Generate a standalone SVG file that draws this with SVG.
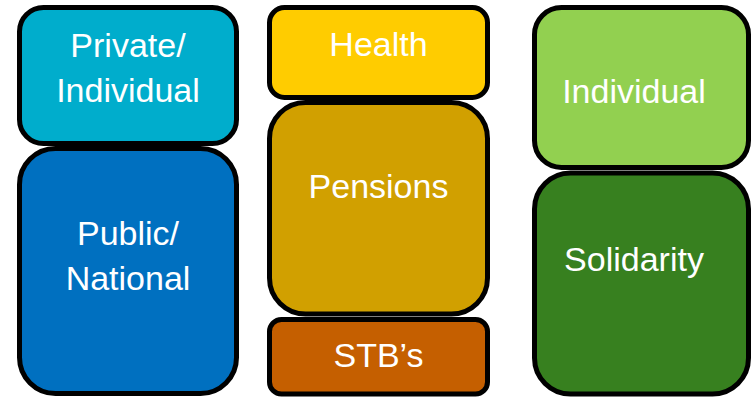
<svg xmlns="http://www.w3.org/2000/svg" width="752" height="398" viewBox="0 0 752 398">
<style>
.box{stroke:#000;stroke-width:5}
.t{font-family:"Liberation Sans",Arial,sans-serif;font-size:34px;fill:#fff;text-anchor:middle}
</style>
<rect width="752" height="398" fill="#fff"/>
<g id="private">
<rect class="box" x="19.5" y="7.5" width="217" height="136" rx="24" fill="#00ADCC"/>
<text class="t" x="128" y="57">Private/</text>
<text class="t" x="128" y="102">Individual</text>
</g>
<g id="public">
<rect class="box" x="19.5" y="148.5" width="217" height="245" rx="36" fill="#0070C0"/>
<text class="t" x="128" y="245">Public/</text>
<text class="t" x="128" y="290">National</text>
</g>
<g id="health">
<rect class="box" x="269.5" y="7.5" width="218" height="90" rx="15" fill="#FFCC00"/>
<text class="t" x="378.5" y="56">Health</text>
</g>
<g id="pensions">
<rect class="box" x="269.5" y="102.5" width="218" height="211.5" rx="36" fill="#D1A000"/>
<text class="t" x="378.5" y="198">Pensions</text>
</g>
<g id="stbs">
<rect class="box" x="269.5" y="319.5" width="218" height="74.5" rx="12" fill="#C55F00"/>
<text class="t" x="378.5" y="367">STB’s</text>
</g>
<g id="individual">
<rect class="box" x="534.5" y="7.5" width="214" height="160" rx="27" fill="#92D050"/>
<text class="t" x="634" y="103">Individual</text>
</g>
<g id="solidarity">
<rect class="box" x="534.5" y="173" width="214" height="221" rx="36" fill="#37801F"/>
<text class="t" x="634" y="271">Solidarity</text>
</g>
<g id="connectors"></g>
</svg>
